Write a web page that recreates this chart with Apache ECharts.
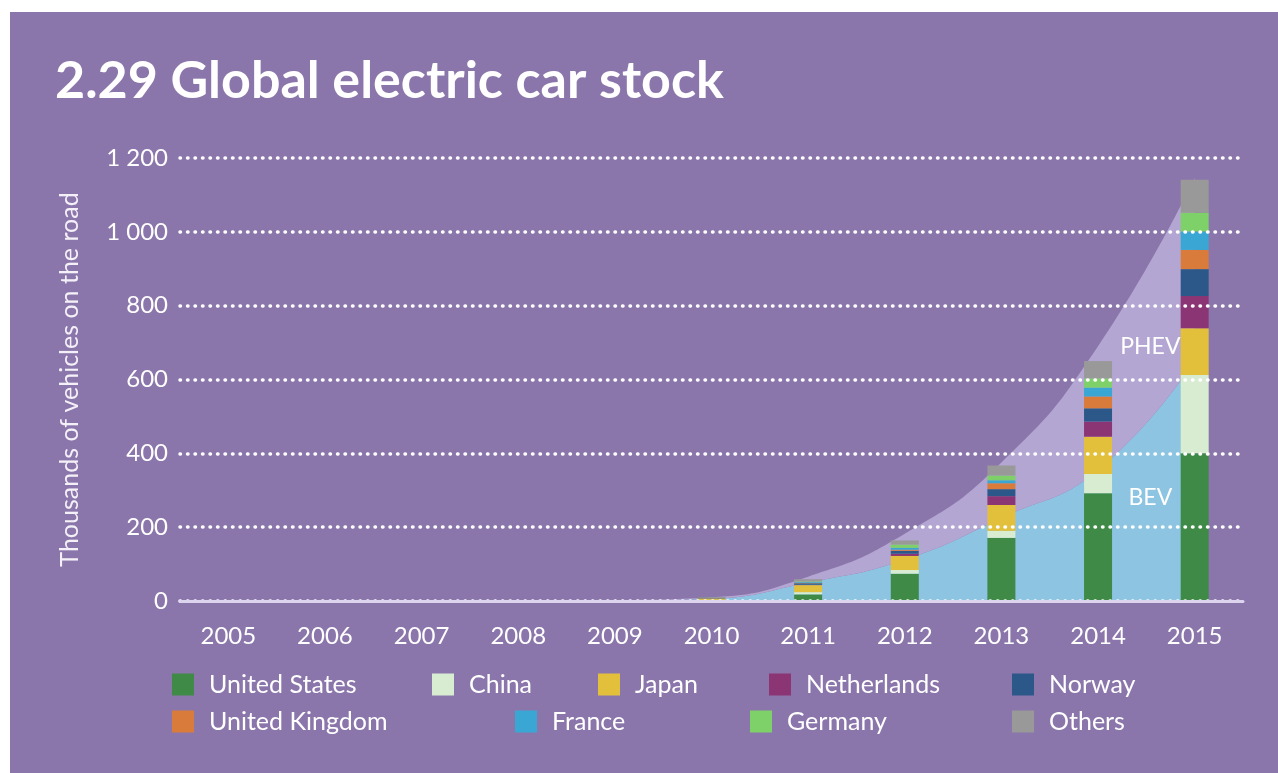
<!DOCTYPE html>
<html>
<head>
<meta charset="utf-8">
<script src="https://cdn.jsdelivr.net/npm/echarts@6/dist/echarts.min.js"></script>
<style>
html,body{margin:0;padding:0;background:#ffffff;width:1278px;height:773px;overflow:hidden;}
#chart{position:absolute;left:10px;top:12px;width:1268px;height:761px;background:#8b76ab;}
</style>
</head>
<body>
<div id="chart"></div>
<script>
const years = ['2005','2006','2007','2008','2009','2010','2011','2012','2013','2014','2015'];
const yTicks = [0, 200, 400, 600, 800, 1000, 1200];

const unitedStates  = [0.2, 0.2, 0.2, 0.2, 0.5, 2,   18, 74, 171, 292, 400];
const china         = [0,   0,   0,   0,   0.2, 1,   6,  10, 19,  52,  212];
const japan         = [0,   0,   0,   0,   1,   4,   19, 38, 70,  101, 127];
const netherlands   = [0,   0,   0,   0,   0,   0.3, 1,  6,  24,  41,  87];
const norway        = [0.1, 0.1, 0.1, 0.2, 0.3, 1.5, 4,  8,  19,  36,  73];
const unitedKingdom = [0,   0,   0,   0,   0,   0.5, 1,  3,  16,  32,  52];
const france        = [0,   0,   0,   0,   0.1, 0.3, 2,  5,  8,   24,  50];
const germany       = [0,   0,   0,   0,   0.1, 0.3, 2,  9,  13,  25,  51];
const others        = [0.5, 0.5, 0.5, 0.5, 0.5, 1,   6,  11, 27,  47,  89];

const bevArea  = [0, 0, 0, 0, 1, 6, 50, 112, 225, 355, 650];
const phevArea = [0, 0, 0, 0, 1, 4, 16, 70,  150, 335, 495];

const countries = [
  ['United States', unitedStates, '#3e8a46'],
  ['China', china, '#d8ecd2'],
  ['Japan', japan, '#e3c03c'],
  ['Netherlands', netherlands, '#8c3575'],
  ['Norway', norway, '#2b5889'],
  ['United Kingdom', unitedKingdom, '#d97b3b'],
  ['France', france, '#39a6d4'],
  ['Germany', germany, '#7dd168'],
  ['Others', others, '#999999']
];
const legendPos = {
  'United States': [157, 655], 'China': [417, 655], 'Japan': [583, 655], 'Netherlands': [754, 655], 'Norway': [997, 655],
  'United Kingdom': [157, 692], 'France': [500, 692], 'Germany': [735, 692], 'Others': [997, 692]
};

const FONT = 'Lato';
const chart = echarts.init(document.getElementById('chart'));

const series = [
  {
    name: 'BEV', type: 'line', stack: 'tech', data: bevArea, smooth: true, symbol: 'none',
    lineStyle: { width: 0 }, areaStyle: { color: '#8dc4e2', opacity: 1 }, silent: true, z: 1
  },
  {
    name: 'PHEV', type: 'line', stack: 'tech', data: phevArea, smooth: true, symbol: 'none',
    lineStyle: { width: 0 }, areaStyle: { color: '#b3a6d2', opacity: 1 }, silent: true, z: 1
  }
];
countries.forEach(c => {
  series.push({ name: c[0], type: 'bar', stack: 'country', data: c[1], barWidth: 28,
    itemStyle: { color: c[2] }, z: 3 });
});

const legends = countries.map(c => ({
  data: [c[0]], left: legendPos[c[0]][0], top: legendPos[c[0]][1],
  icon: 'rect', itemWidth: 22, itemHeight: 22, itemGap: 0, selectedMode: false,
  textStyle: { color: '#ffffff', fontFamily: FONT, fontSize: 25, padding: [0, 0, 0, 10] }
}));

chart.setOption({
  animation: false,
  title: {
    text: '2.29 Global electric car stock', left: 40, top: 38,
    textStyle: { color: '#ffffff', fontFamily: FONT, fontWeight: 'bold', fontSize: 52 }
  },
  legend: legends,
  grid: { left: 170, right: 35, top: 146, bottom: 172 },
  xAxis: {
    type: 'category', data: years, z: 5,
    axisLine: { lineStyle: { color: '#dcd4ee', width: 3 } },
    axisTick: { show: false },
    axisLabel: { color: '#ffffff', fontFamily: FONT, fontSize: 24, margin: 23 }
  },
  yAxis: {
    type: 'value', min: 0, max: 1200, interval: 200, z: 5,
    name: 'Thousands of vehicles on the road', nameLocation: 'middle', nameGap: 98,
    nameTextStyle: { color: '#f4f0f8', fontFamily: FONT, fontSize: 25 },
    axisLine: { show: false }, axisTick: { show: false },
    axisLabel: { color: '#ffffff', fontFamily: FONT, fontSize: 24, margin: 12,
      formatter: v => yTicks.indexOf(v) >= 0 ? String(v).replace(/\B(?=(\d{3})+(?!\d))/g, ' ') : '' },
    splitLine: { lineStyle: { color: '#ffffff', width: 3.5, type: [0.5, 7], cap: 'round' } }
  },
  series: series
});

function placeLabels() {
  const p14 = chart.convertToPixel({ gridIndex: 0 }, ['2014', 0]);
  const p15 = chart.convertToPixel({ gridIndex: 0 }, ['2015', 0]);
  const midX = (p14[0] + p15[0]) / 2;
  const yPhev = chart.convertToPixel({ gridIndex: 0 }, ['2014', 688])[1];
  const yBev = chart.convertToPixel({ gridIndex: 0 }, ['2014', 279])[1];
  chart.setOption({
    graphic: [
      { type: 'text', x: midX + 4, y: yPhev, z: 10,
        style: { text: 'PHEV', fill: '#ffffff', font: '23px ' + FONT, align: 'center', verticalAlign: 'middle' } },
      { type: 'text', x: midX + 4, y: yBev, z: 10,
        style: { text: 'BEV', fill: '#ffffff', font: '23px ' + FONT, align: 'center', verticalAlign: 'middle' } }
    ]
  });
}
placeLabels();
</script>
</body>
</html>
